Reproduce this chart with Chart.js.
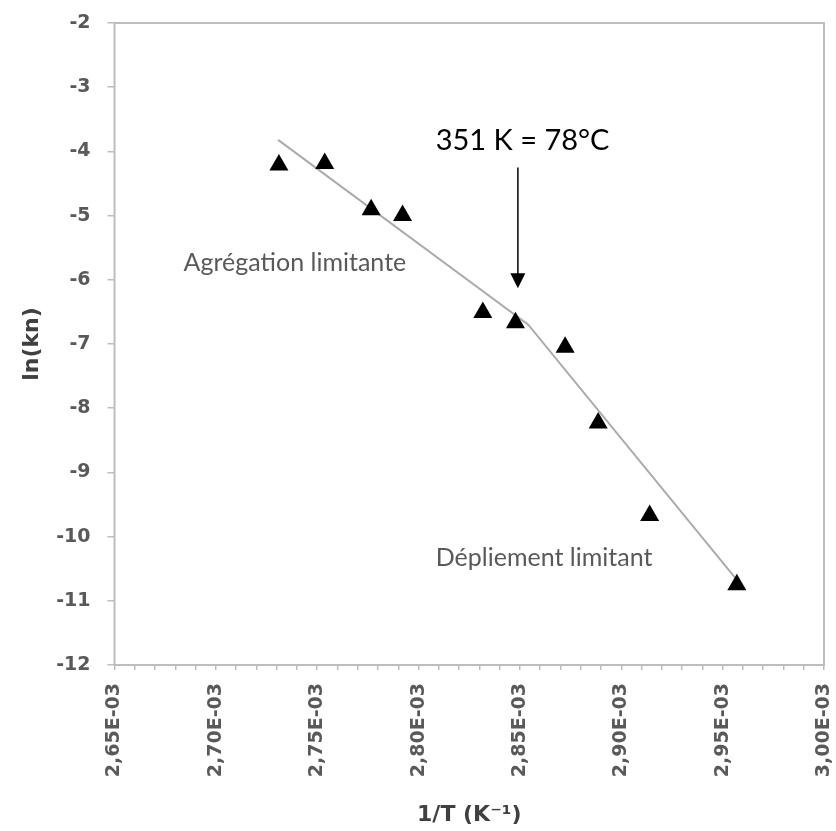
<!DOCTYPE html>
<html lang="fr">
<head>
<meta charset="UTF-8">
<title>ln(kn) vs 1/T</title>
<script src="https://cdn.jsdelivr.net/npm/chart.js"></script>
<style>
    html, body { margin: 0; padding: 0; background: #ffffff; }
    #wrap { width: 836px; height: 831px; }
</style>
</head>
<body>
<div id="wrap">
    <canvas id="arrhenius" width="836" height="831"></canvas>
</div>
<script>
    // measured points: 1/T (K-1) and ln(kn)
    const invT = [2.7311e-3, 2.7537e-3, 2.7766e-3, 2.7921e-3, 2.8317e-3, 2.8478e-3, 2.8723e-3, 2.8886e-3, 2.9140e-3, 2.9570e-3];
    const lnKn = [-4.21, -4.19, -4.91, -5.00, -6.51, -6.67, -7.05, -8.23, -9.67, -10.75];

    // two-segment fit (break at 351 K)
    const fitX = [2.7307e-3, 2.8541e-3, 2.9561e-3];
    const fitY = [-3.82, -6.70, -10.64];

    // axes
    const xMin = 2.65e-3, xMax = 3.00e-3, xMinorStep = 0.01e-3;
    const yMin = -12, yMax = -2, yStep = 1;

    // annotations, in data units
    const arrowX = 2.849e-3;
    const arrowFromY = -4.25;
    const arrowToY = -6.13;
    const notes = [
        { text: '351 K = 78°C', x: 2.8513e-3, y: -3.975, size: 29, color: '#000000' },
        { text: 'Agrégation limitante', x: 2.7390e-3, y: -5.87, size: 25, color: '#595959' },
        { text: 'Dépliement limitant', x: 2.8619e-3, y: -10.46, size: 25, color: '#595959' }
    ];

    const axisGray = '#bdbdbd';

    function fmtX(v) {
        return (v * 1000).toFixed(2).replace('.', ',') + 'E-03';
    }

    // keep the plot box where the reference has it
    function noPad(s) {
        s.paddingLeft = 0;
        s.paddingRight = 0;
        s.paddingTop = 0;
        s.paddingBottom = 0;
    }

    const frame = {
        id: 'frame',
        beforeDatasetsDraw(chart) {
            const { ctx, chartArea: a } = chart;
            ctx.save();
            ctx.strokeStyle = axisGray;
            ctx.lineWidth = 2;
            ctx.strokeRect(a.left, a.top, a.right - a.left, a.bottom - a.top);
            ctx.restore();
        }
    };

    const annotate = {
        id: 'annotate',
        afterDatasetsDraw(chart) {
            const { ctx, scales: { x, y } } = chart;
            ctx.save();
            // arrow
            const ax = x.getPixelForValue(arrowX);
            const ay0 = y.getPixelForValue(arrowFromY);
            const ay1 = y.getPixelForValue(arrowToY);
            ctx.strokeStyle = '#000000';
            ctx.lineWidth = 1.5;
            ctx.beginPath();
            ctx.moveTo(ax, ay0);
            ctx.lineTo(ax, ay1 - 12);
            ctx.stroke();
            ctx.fillStyle = '#000000';
            ctx.beginPath();
            ctx.moveTo(ax, ay1);
            ctx.lineTo(ax - 7.5, ay1 - 15);
            ctx.lineTo(ax + 7.5, ay1 - 15);
            ctx.closePath();
            ctx.fill();
            // texts
            ctx.textAlign = 'center';
            ctx.textBaseline = 'alphabetic';
            notes.forEach(n => {
                ctx.font = n.size + 'px Lato, "Open Sans", sans-serif';
                ctx.fillStyle = n.color;
                ctx.fillText(n.text, x.getPixelForValue(n.x), y.getPixelForValue(n.y));
            });
            ctx.restore();
        }
    };

    const points = invT.map((v, i) => ({ x: v, y: lnKn[i] }));
    const fit = fitX.map((v, i) => ({ x: v, y: fitY[i] }));

    new Chart(document.getElementById('arrhenius'), {
        type: 'scatter',
        data: {
            datasets: [
                {
                    label: 'ln(kn)',
                    data: points,
                    pointStyle: 'triangle',
                    pointRadius: 11,
                    backgroundColor: '#000000',
                    borderColor: '#000000',
                    borderWidth: 0,
                    order: 0
                },
                {
                    label: 'fit',
                    data: fit,
                    showLine: true,
                    pointRadius: 0,
                    borderColor: '#ababab',
                    borderWidth: 2,
                    fill: false,
                    order: 1
                }
            ]
        },
        options: {
            responsive: false,
            animation: false,
            devicePixelRatio: 1,
            layout: { padding: { top: 23, right: 12, left: 0, bottom: 0 } },
            plugins: {
                legend: { display: false },
                tooltip: { enabled: false }
            },
            scales: {
                x: {
                    type: 'linear',
                    min: xMin,
                    max: xMax,
                    afterFit: s => { s.height = 166; noPad(s); },
                    border: { display: false },
                    grid: {
                        drawOnChartArea: false,
                        drawTicks: true,
                        tickLength: 5,
                        color: axisGray,
                        lineWidth: 1.5
                    },
                    ticks: {
                        stepSize: xMinorStep,
                        autoSkip: false,
                        minRotation: 90,
                        maxRotation: 90,
                        padding: 13,
                        color: '#595959',
                        font: { family: '"DejaVu Sans"', size: 19, weight: 'bold' },
                        callback: v => (Math.round(v * 1e5) % 5 === 0 ? fmtX(v) : '')
                    },
                    title: {
                        display: true,
                        text: '1/T (K⁻¹)',
                        color: '#404040',
                        font: { family: '"DejaVu Sans"', size: 22, weight: 'bold' },
                        padding: { top: 0, bottom: 3 }
                    }
                },
                y: {
                    type: 'linear',
                    min: yMin,
                    max: yMax,
                    afterFit: s => { s.width = 114.5; noPad(s); },
                    border: { display: false },
                    grid: {
                        drawOnChartArea: false,
                        drawTicks: true,
                        tickLength: 7,
                        color: axisGray,
                        lineWidth: 1.5
                    },
                    ticks: {
                        stepSize: yStep,
                        padding: 17,
                        color: '#595959',
                        font: { family: '"DejaVu Sans"', size: 19, weight: 'bold' },
                        callback: v => String(v)
                    },
                    title: {
                        display: true,
                        text: 'ln(kn)',
                        color: '#404040',
                        font: { family: '"DejaVu Sans"', size: 22, weight: 'bold' },
                        padding: { top: 19, bottom: 0 }
                    }
                }
            }
        },
        plugins: [frame, annotate]
    });
</script>
</body>
</html>
